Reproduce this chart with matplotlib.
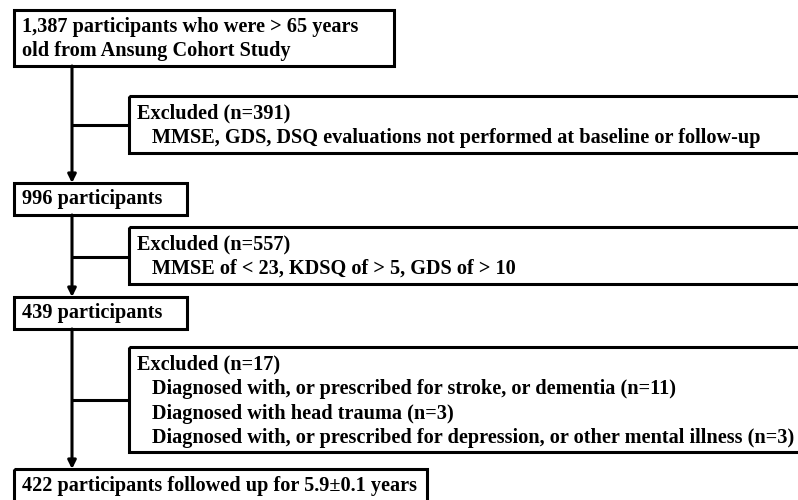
import matplotlib.pyplot as plt
from matplotlib.patches import Rectangle

# textos do fluxograma
main_boxes = ['1,387 participants who were > 65 years\nold from Ansung Cohort Study',
              '996 participants',
              '439 participants',
              '422 participants followed up for 5.9\u00b10.1 years']
excl_titles = ['Excluded (n=391)', 'Excluded (n=557)', 'Excluded (n=17)']
excl_lines = [['MMSE, GDS, DSQ evaluations not performed at baseline or follow-up'],
              ['MMSE of < 23, KDSQ of > 5, GDS of > 10'],
              ['Diagnosed with, or prescribed for stroke, or dementia (n=11)',
               'Diagnosed with head trauma (n=3)',
               'Diagnosed with, or prescribed for depression, or other mental illness (n=3)']]

# layout (pixels)
main_pos = [(14, 10, 394, 66), (14, 183, 187, 215), (14, 297, 187, 329), (14, 469, 427, 520)]
excl_pos = [(129, 96, 820, 153), (129, 227, 820, 284), (129, 347, 820, 452)]
conn_y = [125, 257, 400]
xline = 72
lw = 2.2
fs = 14.55
font = 'Liberation Serif'

fig = plt.figure(figsize=(7.98, 5.0), dpi=100)
ax = fig.add_axes([0, 0, 1, 1])
ax.set_xlim(0, 798)
ax.set_ylim(500, 0)
ax.axis('off')

for (x0, y0, x1, y1), txt in zip(main_pos, main_boxes):
    ax.add_patch(Rectangle((x0, y0), x1 - x0, y1 - y0, fill=False, lw=lw, ec='black', clip_on=True))
    lines = txt.split('\n')
    if len(lines) == 1:
        ty = [(y0 + y1) / 2 if y1 < 500 else 486]
    else:
        ty = [27, 51]
    for t, yy in zip(lines, ty):
        ax.text(22, yy, t, fontsize=fs, fontweight='bold', family=font, va='center', ha='left')

for (x0, y0, x1, y1), title, lines in zip(excl_pos, excl_titles, excl_lines):
    ax.add_patch(Rectangle((x0, y0), x1 - x0, y1 - y0, fill=False, lw=lw, ec='black', clip_on=True))
    ax.text(137, y0 + 17, title, fontsize=fs, fontweight='bold', family=font, va='center')
    for i, t in enumerate(lines):
        ax.text(152, y0 + 42 + i * 24.5, t, fontsize=fs, fontweight='bold', family=font, va='center')

# linhas e setas
for i in range(3):
    top = main_pos[i][3]
    bot = main_pos[i + 1][1]
    ax.annotate('', xy=(xline, bot), xytext=(xline, top),
                arrowprops=dict(arrowstyle='-|>', lw=lw, color='black', mutation_scale=12,
                                shrinkA=0, shrinkB=0))
    ax.plot([xline, excl_pos[i][0]], [conn_y[i], conn_y[i]], color='black', lw=lw, solid_capstyle='butt')

fig.savefig('out.png', dpi=100)
